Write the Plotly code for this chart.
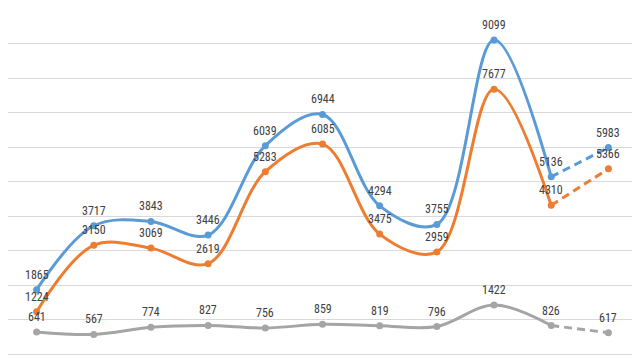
import plotly.graph_objects as go

categories = list(range(11))
blue_vals = [1865, 3717, 3843, 3446, 6039, 6944, 4294, 3755, 9099, 5136, 5983]
orange_vals = [1224, 3150, 3069, 2619, 5283, 6085, 3475, 2959, 7677, 4310, 5366]
gray_vals = [641, 567, 774, 827, 756, 859, 819, 796, 1422, 826, 617]

series = [
    (blue_vals, "#5B9BD5"),
    (orange_vals, "#ED7D31"),
    (gray_vals, "#A5A5A5"),
]

LABEL_FONT = dict(family="Liberation Sans Narrow, Arial Narrow, Roboto Condensed, Liberation Sans, sans-serif",
                  size=12, color="#404040")

fig = go.Figure()
annotations = []
for vals, color in series:
    # solid part
    fig.add_trace(go.Scatter(
        x=categories[:10], y=vals[:10], mode="lines",
        line=dict(color=color, width=3, shape="spline", smoothing=1.0),
        hoverinfo="skip", showlegend=False))
    # dashed forecast part
    fig.add_trace(go.Scatter(
        x=categories[9:], y=vals[9:], mode="lines",
        line=dict(color=color, width=3, dash="8px,5px", shape="spline"),
        hoverinfo="skip", showlegend=False))
    # markers
    fig.add_trace(go.Scatter(
        x=categories, y=vals, mode="markers",
        marker=dict(color=color, size=7),
        hoverinfo="skip", showlegend=False))
    for xv, yv in zip(categories, vals):
        annotations.append(dict(
            x=xv, y=yv, xref="x", yref="y", text=str(yv), showarrow=False,
            yshift=15, yanchor="middle", xanchor="center", font=LABEL_FONT))

# the page body keeps an 8px default margin, so the figure is sized/offset to fit
fig.update_layout(
    width=632, height=352,
    margin=dict(l=0, r=3, t=1, b=6),
    paper_bgcolor="white", plot_bgcolor="white",
    annotations=annotations,
    xaxis=dict(range=[-0.5, 10.5], showgrid=False, zeroline=False,
               showticklabels=False, ticks="", showline=False),
    yaxis=dict(range=[0, 10000], dtick=1000, showgrid=True,
               gridcolor="#D9D9D9", gridwidth=1, zeroline=True,
               zerolinecolor="#D9D9D9", zerolinewidth=1,
               showticklabels=False, ticks="", showline=False),
)

fig.write_html("out.html")
